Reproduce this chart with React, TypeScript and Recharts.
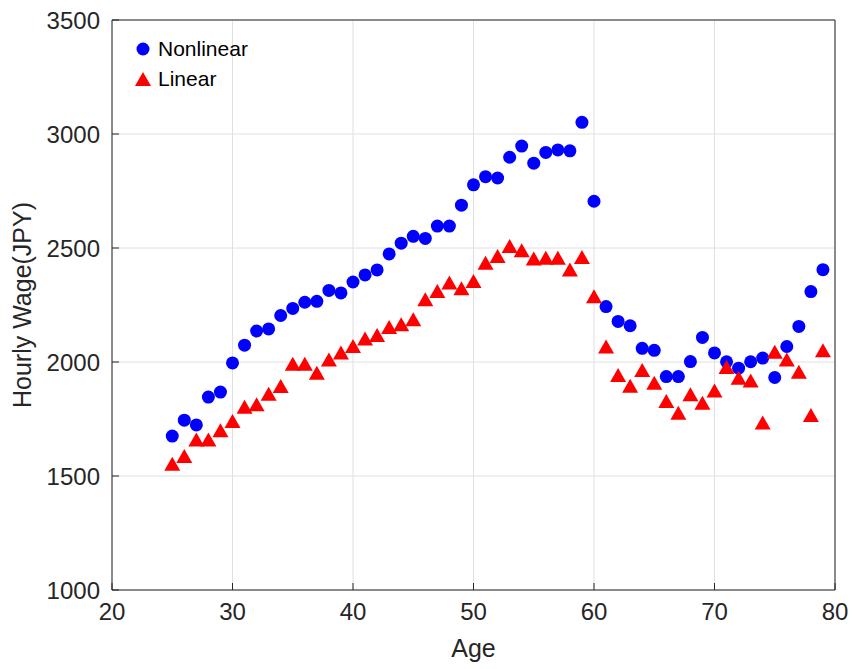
import React from "react";
import {
  ScatterChart,
  Scatter,
  XAxis,
  YAxis,
  CartesianGrid,
  Label,
} from "recharts";

const ages = [
  25, 26, 27, 28, 29, 30, 31, 32, 33, 34, 35, 36, 37, 38, 39, 40, 41, 42, 43,
  44, 45, 46, 47, 48, 49, 50, 51, 52, 53, 54, 55, 56, 57, 58, 59, 60, 61, 62,
  63, 64, 65, 66, 67, 68, 69, 70, 71, 72, 73, 74, 75, 76, 77, 78, 79,
];

const nonlinearWage = [
  1675, 1745, 1724, 1846, 1868, 1996, 2074, 2136, 2145, 2204, 2235, 2262, 2266,
  2314, 2303, 2351, 2382, 2404, 2474, 2521, 2551, 2542, 2596, 2596, 2688, 2777,
  2813, 2807, 2898, 2947, 2872, 2919, 2930, 2926, 3051, 2705, 2243, 2178, 2159,
  2060, 2051, 1936, 1936, 2002, 2108, 2040, 2001, 1973, 2001, 2017, 1932, 2068,
  2156, 2309, 2405,
];

const linearWage = [
  1544, 1578, 1650, 1650, 1690, 1731, 1793, 1804, 1851, 1885, 1982, 1982, 1943,
  2001, 2031, 2060, 2093, 2108, 2143, 2155, 2177, 2265, 2301, 2338, 2313, 2345,
  2425, 2455, 2499, 2480, 2444, 2447, 2447, 2396, 2450, 2278, 2058, 1933, 1886,
  1955, 1899, 1819, 1767, 1848, 1811, 1865, 1968, 1921, 1909, 1724, 2035, 2001,
  1947, 1757, 2041,
];

const xTicks = [20, 30, 40, 50, 60, 70, 80];
const yTicks = [1000, 1500, 2000, 2500, 3000, 3500];

const nonlinearData = ages.map((age, i) => ({ age, wage: nonlinearWage[i] }));
const linearData = ages.map((age, i) => ({ age, wage: linearWage[i] }));

const FONT = "'Liberation Sans', Arial, sans-serif";
const AXIS = "#262626";

const Dot = (props: any) => {
  const { cx, cy } = props;
  if (cx == null || cy == null) return null;
  return <circle cx={cx} cy={cy} r={6.5} fill="#0000ff" />;
};

const Tri = (props: any) => {
  const { cx, cy } = props;
  if (cx == null || cy == null) return null;
  const h = 14;
  const w = 16;
  const pts = `${cx},${cy - (h * 2) / 3} ${cx - w / 2},${cy + h / 3} ${cx + w / 2},${cy + h / 3}`;
  return <polygon points={pts} fill="#ff0000" />;
};

const LegendBox = () => (
  <div
    style={{
      position: "absolute",
      left: 135,
      top: 34,
      fontFamily: FONT,
      fontSize: 21,
      color: "#000",
      lineHeight: "30px",
    }}
  >
    <div style={{ display: "flex", alignItems: "center" }}>
      <svg width={18} height={16}>
        <circle cx={8} cy={8} r={6.5} fill="#0000ff" />
      </svg>
      <span style={{ marginLeft: 5 }}>Nonlinear</span>
    </div>
    <div style={{ display: "flex", alignItems: "center" }}>
      <svg width={18} height={16}>
        <polygon points="8,1 0,15 16,15" fill="#ff0000" />
      </svg>
      <span style={{ marginLeft: 5 }}>Linear</span>
    </div>
  </div>
);

export default function App() {
  const tickStyle = { fontSize: 24, fill: AXIS, fontFamily: FONT };
  return (
    <div style={{ position: "absolute", left: 0, top: 0, width: 852, height: 669, background: "#fff" }}>
      <ScatterChart
        width={852}
        height={669}
        margin={{ top: 19, right: 16, bottom: 0, left: 0 }}
      >
        <CartesianGrid stroke="#e0e0e0" xAxisId="bottom" yAxisId="left" />
        <XAxis
          xAxisId="bottom"
          type="number"
          dataKey="age"
          domain={[20, 80]}
          ticks={xTicks}
          allowDataOverflow
          height={79}
          stroke={AXIS}
          tickSize={-7}
          tickMargin={20}
          tick={tickStyle}
        >
          <Label
            value="Age"
            position="insideBottom"
            offset={12}
            style={{ fontSize: 25, fill: AXIS, fontFamily: FONT }}
          />
        </XAxis>
        <XAxis
          xAxisId="top"
          orientation="top"
          type="number"
          dataKey="age"
          domain={[20, 80]}
          ticks={xTicks}
          height={1}
          stroke={AXIS}
          tickSize={-7}
          tick={false}
        />
        <YAxis
          yAxisId="left"
          type="number"
          dataKey="wage"
          domain={[1000, 3500]}
          ticks={yTicks}
          allowDataOverflow
          width={112}
          stroke={AXIS}
          tickSize={-7}
          tickMargin={19}
          tick={tickStyle}
        >
          <Label
            value="Hourly Wage(JPY)"
            angle={-90}
            position="insideLeft"
            offset={22}
            style={{ fontSize: 25, fill: AXIS, fontFamily: FONT, textAnchor: "middle" }}
          />
        </YAxis>
        <YAxis
          yAxisId="right"
          orientation="right"
          type="number"
          dataKey="wage"
          domain={[1000, 3500]}
          ticks={yTicks}
          width={1}
          stroke={AXIS}
          tickSize={-7}
          tick={false}
        />
        <Scatter
          name="Nonlinear"
          data={nonlinearData}
          xAxisId="bottom"
          yAxisId="left"
          shape={<Dot />}
          isAnimationActive={false}
        />
        <Scatter
          name="Linear"
          data={linearData}
          xAxisId="bottom"
          yAxisId="left"
          shape={<Tri />}
          isAnimationActive={false}
        />
      </ScatterChart>
      <LegendBox />
    </div>
  );
}
